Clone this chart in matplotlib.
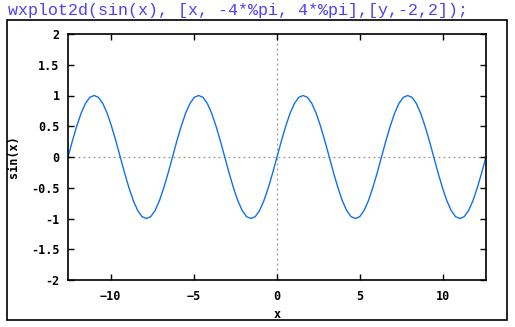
import numpy as np
import matplotlib
matplotlib.use("Agg")
import matplotlib.pyplot as plt
from matplotlib.patches import Rectangle
from matplotlib.ticker import FuncFormatter

# sin(x) every pi/12 from -4pi to 4pi
y_vals = [
    0, .26, .5, .71, .87, .97, 1, .97, .87, .71, .5, .26,
    0, -.26, -.5, -.71, -.87, -.97, -1, -.97, -.87, -.71, -.5, -.26,
    0, .26, .5, .71, .87, .97, 1, .97, .87, .71, .5, .26,
    0, -.26, -.5, -.71, -.87, -.97, -1, -.97, -.87, -.71, -.5, -.26,
    0, .26, .5, .71, .87, .97, 1, .97, .87, .71, .5, .26,
    0, -.26, -.5, -.71, -.87, -.97, -1, -.97, -.87, -.71, -.5, -.26,
    0, .26, .5, .71, .87, .97, 1, .97, .87, .71, .5, .26,
    0, -.26, -.5, -.71, -.87, -.97, -1, -.97, -.87, -.71, -.5, -.26,
    0,
]
x_vals = np.linspace(-4 * np.pi, 4 * np.pi, len(y_vals))

x_ticks = [-10, -5, 0, 5, 10]
y_ticks = [-2, -1.5, -1, -0.5, 0, 0.5, 1, 1.5, 2]
command = "wxplot2d(sin(x), [x, -4*%pi, 4*%pi],[y,-2,2]);"

W, H = 515, 327
fig = plt.figure(figsize=(W / 100, H / 100), dpi=100)

# input line and the output cell frame
fig.text(8 / W, 1 - 10 / H, command, family="Liberation Mono", fontsize=12,
         color="#5040f0", va="center", ha="left")
fig.patches.append(Rectangle((7 / W, 1 - 320 / H), 500 / W, 300 / H,
                             transform=fig.transFigure, fill=False,
                             edgecolor="black", linewidth=1.2))

ax = fig.add_axes([68 / W, 1 - 280 / H, 418 / W, 246 / H])
ax.plot(x_vals, y_vals, color="#1070f0", linewidth=1.0)
ax.axhline(0, color="#9a9484", linestyle=(0, (1.5, 2.5)), linewidth=0.9, zorder=0)
ax.axvline(0, color="#9a9484", linestyle=(0, (1.5, 2.5)), linewidth=0.9, zorder=0)

ax.set_xlim(-4 * np.pi, 4 * np.pi)
ax.set_ylim(-2, 2)
ax.set_xticks(x_ticks)
ax.set_yticks(y_ticks)
ax.yaxis.set_major_formatter(FuncFormatter(lambda v, p: f"{v:g}"))
ax.tick_params(direction="in", length=4, width=1, top=True, right=True,
               labelsize=8.5, color="black")
ax.tick_params(axis="y", pad=6)
ax.tick_params(axis="x", pad=7)
for lab in ax.get_xticklabels() + ax.get_yticklabels():
    lab.set_family("DejaVu Sans Mono")
    lab.set_fontweight("bold")
for s in ax.spines.values():
    s.set_linewidth(1.2)

ax.set_xlabel("x", family="DejaVu Sans Mono", fontweight="bold", fontsize=8.5, labelpad=4)
ax.set_ylabel("sin(x)", family="DejaVu Sans Mono", fontweight="bold", fontsize=8.5, labelpad=8)

fig.savefig("out.png", dpi=100)
